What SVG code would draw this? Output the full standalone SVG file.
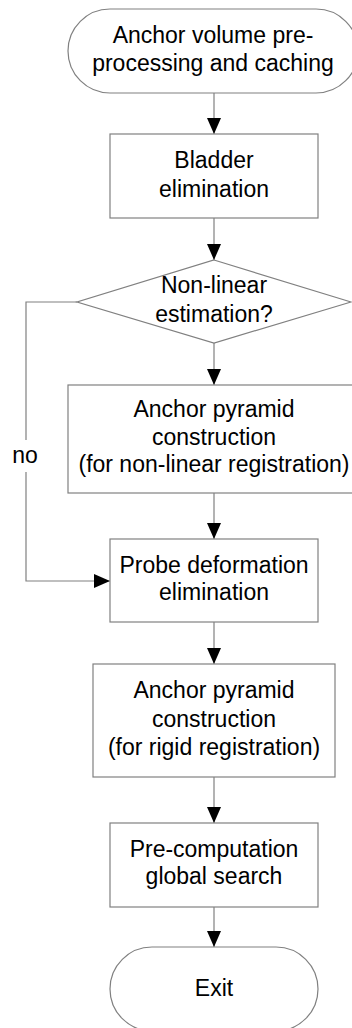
<svg xmlns="http://www.w3.org/2000/svg" width="352" height="1028" viewBox="0 0 352 1028">
<style>
.n{fill:#fff;stroke:#808080;stroke-width:1.2}
.t{font-family:"Liberation Sans",Arial,sans-serif;font-size:23px;fill:#000;text-anchor:middle}
.c{fill:none;stroke:#808080;stroke-width:1.2}
</style>
<defs>
<marker id="ah" viewBox="0 0 16 14" refX="16" refY="7" markerWidth="16" markerHeight="14" markerUnits="userSpaceOnUse" orient="auto">
<path d="M0,0 L16,7 L0,14 Z" fill="#000"/>
</marker>
</defs>
<rect width="352" height="1028" fill="#fff"/>
<g id="connectors">
<line class="c" x1="214" y1="93" x2="214" y2="134" marker-end="url(#ah)"/>
<line class="c" x1="214" y1="218" x2="214" y2="260" marker-end="url(#ah)"/>
<line class="c" x1="214" y1="343" x2="214" y2="385" marker-end="url(#ah)"/>
<line class="c" x1="214" y1="493" x2="214" y2="539" marker-end="url(#ah)"/>
<line class="c" x1="214" y1="622" x2="214" y2="664" marker-end="url(#ah)"/>
<line class="c" x1="214" y1="777" x2="214" y2="823" marker-end="url(#ah)"/>
<line class="c" x1="214" y1="907" x2="214" y2="947" marker-end="url(#ah)"/>
<polyline class="c" points="77,302 26,302 26,581 110,581" marker-end="url(#ah)"/>
<rect x="11" y="440" width="30" height="32" fill="#fff"/>
<text class="t" x="25" y="463">no</text>
</g>
<g id="start">
<rect class="n" x="68" y="9" width="290" height="84" rx="42" ry="42"/>
<text class="t" x="213" y="43">Anchor volume pre-</text>
<text class="t" x="213" y="71">processing and caching</text>
</g>
<g id="bladder">
<rect class="n" x="110" y="134" width="208" height="84"/>
<text class="t" x="214" y="168">Bladder</text>
<text class="t" x="214" y="197">elimination</text>
</g>
<g id="decision">
<polygon class="n" points="214,260 351,302 214,343 77,302"/>
<text class="t" x="214" y="293">Non-linear</text>
<text class="t" x="214" y="322">estimation?</text>
</g>
<g id="pyramid-nonlinear">
<rect class="n" x="68" y="385" width="292" height="108"/>
<text class="t" x="214" y="417">Anchor pyramid</text>
<text class="t" x="214" y="445">construction</text>
<text class="t" x="214" y="472">(for non-linear registration)</text>
</g>
<g id="probe">
<rect class="n" x="110" y="539" width="208" height="83"/>
<text class="t" x="214" y="573">Probe deformation</text>
<text class="t" x="214" y="600">elimination</text>
</g>
<g id="pyramid-rigid">
<rect class="n" x="93" y="664" width="242" height="113"/>
<text class="t" x="214" y="698">Anchor pyramid</text>
<text class="t" x="214" y="727">construction</text>
<text class="t" x="214" y="755">(for rigid registration)</text>
</g>
<g id="precompute">
<rect class="n" x="110" y="823" width="208" height="84"/>
<text class="t" x="214" y="857">Pre-computation</text>
<text class="t" x="214" y="884">global search</text>
</g>
<g id="exit">
<rect class="n" x="110" y="947" width="208" height="84" rx="42" ry="42"/>
<text class="t" x="214" y="996">Exit</text>
</g>
</svg>
